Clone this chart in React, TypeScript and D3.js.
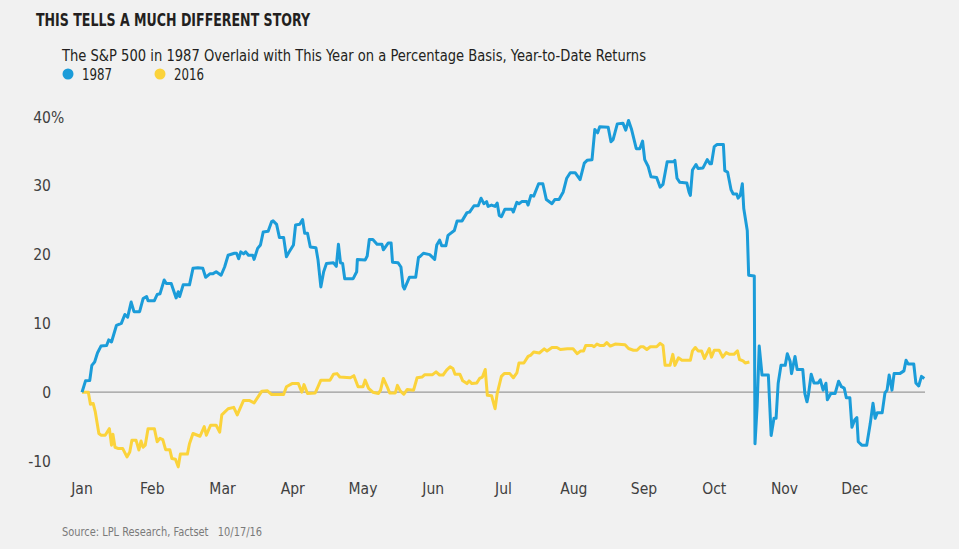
import React from "react";
import * as d3 from "d3";

const title = "THIS TELLS A MUCH DIFFERENT STORY";
const subtitle = "The S&P 500 in 1987 Overlaid with This Year on a Percentage Basis, Year-to-Date Returns";
const source = "Source: LPL Research, Factset   10/17/16";
const monthLabels = ["Jan", "Feb", "Mar", "Apr", "May", "Jun", "Jul", "Aug", "Sep", "Oct", "Nov", "Dec"];
const yTicks = [-10, 0, 10, 20, 30, 40];
const seriesNames = ["1987", "2016"];

// [month position, % year-to-date]
const series1987: [number, number][] = [
  [0, 0], [0.05, 1.65], [0.11, 1.7], [0.14, 3.9], [0.18, 4.4], [0.22, 5.7], [0.27, 6.7], [0.35, 6.8],
  [0.38, 7.6], [0.42, 7.3], [0.49, 9.7], [0.56, 10.0], [0.61, 11.3], [0.65, 10.9], [0.7, 13.1], [0.74, 11.7],
  [0.82, 11.7], [0.87, 13.6], [0.92, 13.9], [0.94, 13.3], [1.03, 13.3], [1.07, 14.2], [1.11, 14.3], [1.17, 16.3],
  [1.2, 15.8], [1.27, 15.8], [1.34, 13.7], [1.37, 14.6], [1.39, 13.9], [1.44, 15.6], [1.53, 15.6], [1.58, 18.0],
  [1.65, 18.1], [1.72, 18.0], [1.76, 16.7], [1.82, 17.2], [1.86, 17.2], [1.91, 17.5], [1.98, 17.0], [2.03, 18.2],
  [2.08, 19.9], [2.17, 20.2], [2.2, 20.2], [2.23, 19.4], [2.26, 20.4], [2.3, 20.1], [2.33, 20.4], [2.37, 19.9],
  [2.43, 19.9], [2.45, 19.3], [2.5, 20.9], [2.54, 21.4], [2.58, 23.3], [2.65, 23.4], [2.7, 24.8], [2.72, 24.9],
  [2.77, 24.4], [2.81, 22.5], [2.87, 22.5], [2.91, 19.7], [2.95, 20.4], [3.01, 21.4], [3.04, 24.3], [3.1, 24.4],
  [3.14, 25.1], [3.17, 23.1], [3.21, 23.1], [3.25, 21.1], [3.33, 21.0], [3.36, 19.2], [3.4, 15.3], [3.44, 17.5],
  [3.48, 18.7], [3.58, 18.8], [3.62, 18.3], [3.65, 21.5], [3.68, 18.8], [3.71, 18.7], [3.74, 16.5], [3.86, 16.5],
  [3.91, 17.5], [3.92, 19.3], [4.03, 19.2], [4.06, 19.8], [4.09, 22.2], [4.14, 22.2], [4.2, 21.5], [4.27, 21.5],
  [4.29, 20.7], [4.36, 21.7], [4.4, 21.7], [4.42, 18.9], [4.5, 18.8], [4.54, 18.2], [4.57, 15.4], [4.59, 15.0],
  [4.66, 16.7], [4.75, 16.7], [4.79, 19.6], [4.81, 19.7], [4.86, 20.2], [4.95, 20.0], [5.02, 19.3], [5.05, 21.4],
  [5.09, 22.1], [5.12, 21.3], [5.18, 21.3], [5.21, 22.8], [5.3, 23.5], [5.34, 24.9], [5.41, 24.9], [5.48, 26.1],
  [5.52, 26.2], [5.58, 27.1], [5.64, 27.1], [5.68, 28.2], [5.72, 27.4], [5.76, 27.7], [5.78, 27.0], [5.83, 27.2],
  [5.88, 27.0], [5.91, 27.5], [5.94, 25.7], [5.97, 25.5], [6.02, 26.6], [6.12, 26.6], [6.14, 26.2], [6.19, 27.6],
  [6.22, 27.4], [6.26, 27.7], [6.33, 27.7], [6.35, 27.2], [6.39, 28.6], [6.43, 28.5], [6.5, 30.3], [6.56, 30.3],
  [6.61, 28.0], [6.69, 27.4], [6.73, 28.0], [6.79, 28.0], [6.85, 29.1], [6.9, 31.1], [6.95, 31.9], [7.02, 31.9],
  [7.09, 30.9], [7.15, 33.3], [7.19, 33.7], [7.26, 33.8], [7.3, 38.2], [7.34, 37.7], [7.37, 38.6], [7.49, 38.5],
  [7.53, 36.4], [7.56, 36.7], [7.62, 39.0], [7.7, 39.1], [7.74, 38.1], [7.78, 39.5], [7.82, 38.3], [7.89, 35.4],
  [7.94, 35.4], [7.98, 36.5], [8.01, 33.8], [8.06, 32.8], [8.1, 31.3], [8.18, 31.2], [8.23, 29.8], [8.27, 30.2],
  [8.33, 33.5], [8.42, 33.5], [8.44, 33.7], [8.47, 31.1], [8.51, 30.5], [8.61, 30.4], [8.64, 29.1], [8.66, 28.6],
  [8.69, 32.3], [8.74, 33.1], [8.77, 32.5], [8.84, 32.6], [8.9, 33.8], [8.94, 33.2], [8.96, 33.2], [9.0, 35.7],
  [9.04, 36.0], [9.13, 36.0], [9.15, 32.2], [9.19, 32.0], [9.24, 29.4], [9.27, 28.8], [9.32, 28.8], [9.34, 28.2],
  [9.37, 28.6], [9.4, 30.3], [9.42, 26.7], [9.47, 23.5], [9.49, 17.0], [9.57, 16.9], [9.58, -7.5], [9.61, -2.1],
  [9.64, 6.7], [9.68, 2.5], [9.77, 2.5], [9.81, -6.3], [9.85, -3.8], [9.88, -3.8], [9.91, 1.3], [9.95, 3.9],
  [10.01, 3.9], [10.04, 5.6], [10.08, 4.5], [10.1, 2.7], [10.15, 5.2], [10.18, 3.3], [10.26, 3.3], [10.29, -0.2],
  [10.32, -1.4], [10.34, -0.4], [10.38, 2.6], [10.42, 1.35], [10.48, 1.35], [10.51, 1.8], [10.55, 0.3], [10.59, 1.3],
  [10.61, -1.1], [10.66, -0.2], [10.72, -0.2], [10.77, 1.6], [10.81, 0.8], [10.85, 0.6], [10.88, -0.8], [10.93, -0.8],
  [10.96, -5.1], [11.0, -4.0], [11.03, -3.7], [11.05, -7.2], [11.1, -7.7], [11.17, -7.7], [11.22, -4.6], [11.26, -1.6],
  [11.29, -3.8], [11.32, -3.0], [11.39, -3.0], [11.43, -0.1], [11.46, 0.3], [11.49, 2.5], [11.53, 0.3], [11.56, 2.7],
  [11.64, 2.7], [11.7, 3.1], [11.73, 4.65], [11.76, 4.1], [11.84, 4.1], [11.87, 1.35], [11.91, 0.9], [11.95, 2.3],
  [11.99, 2.0],
];

const series2016: [number, number][] = [
  [0, 0], [0.09, 0], [0.12, -1.75], [0.16, -1.65], [0.19, -2.9], [0.24, -6.0], [0.27, -6.25], [0.33, -6.25],
  [0.39, -5.3], [0.42, -7.7], [0.44, -6.1], [0.47, -8.0], [0.52, -8.2], [0.58, -8.2], [0.64, -9.4], [0.68, -8.7],
  [0.71, -7.0], [0.77, -7.0], [0.81, -8.4], [0.84, -7.1], [0.87, -8.0], [0.9, -7.7], [0.94, -5.3], [1.03, -5.3],
  [1.07, -7.2], [1.11, -6.7], [1.15, -6.9], [1.19, -8.35], [1.25, -8.35], [1.28, -9.65], [1.33, -9.75], [1.37, -10.85],
  [1.4, -9.0], [1.5, -9.0], [1.53, -7.5], [1.58, -6.0], [1.68, -6.4], [1.74, -5.0], [1.77, -6.25], [1.83, -4.8],
  [1.91, -4.8], [1.96, -5.8], [1.99, -3.3], [2.08, -2.4], [2.16, -2.2], [2.21, -3.3], [2.3, -1.2], [2.38, -1.2],
  [2.45, -1.55], [2.56, 0.15], [2.64, 0.2], [2.7, -0.35], [2.87, -0.35], [2.91, 0.8], [2.99, 1.25], [3.08, 1.25],
  [3.13, 0], [3.16, 1.1], [3.21, -0.2], [3.32, -0.1], [3.36, 0.8], [3.4, 1.75], [3.53, 1.75], [3.58, 2.6],
  [3.63, 2.7], [3.67, 2.2], [3.82, 2.1], [3.87, 2.4], [3.93, 0.8], [4.0, 0.8], [4.03, 1.75], [4.08, 0.55],
  [4.14, 0], [4.22, -0.2], [4.25, 0.3], [4.29, 2.0], [4.34, 0.9], [4.38, -0.1], [4.46, -0.1], [4.49, 1.0],
  [4.53, 0.2], [4.58, -0.3], [4.63, 0.4], [4.72, 0.3], [4.77, 2.1], [4.84, 2.2], [4.88, 2.55], [4.99, 2.55],
  [5.04, 2.95], [5.09, 2.5], [5.14, 2.5], [5.19, 3.2], [5.24, 3.7], [5.28, 3.45], [5.31, 2.6], [5.38, 2.6],
  [5.42, 1.65], [5.48, 1.25], [5.51, 1.65], [5.55, 1.25], [5.62, 1.35], [5.66, 2.0], [5.7, 2.2], [5.74, 3.3],
  [5.77, -0.45], [5.83, -0.5], [5.88, -2.4], [5.91, -0.2], [5.97, 2.3], [6.01, 2.7], [6.09, 2.7], [6.14, 2.1],
  [6.19, 2.8], [6.22, 4.25], [6.29, 4.25], [6.35, 5.2], [6.39, 5.4], [6.43, 5.85], [6.51, 5.7], [6.58, 6.3],
  [6.62, 6.0], [6.69, 6.5], [6.76, 6.5], [6.81, 6.2], [6.91, 6.3], [6.99, 6.3], [7.05, 5.6], [7.1, 6.0],
  [7.14, 6.0], [7.17, 6.8], [7.26, 6.8], [7.29, 6.6], [7.33, 7.0], [7.37, 6.8], [7.43, 6.8], [7.47, 7.2],
  [7.52, 6.7], [7.59, 7.0], [7.73, 6.9], [7.78, 6.35], [7.85, 6.1], [7.9, 6.1], [7.95, 6.6], [7.99, 6.6],
  [8.04, 6.2], [8.09, 6.6], [8.18, 6.6], [8.23, 7.1], [8.27, 6.8], [8.3, 3.9], [8.37, 3.9], [8.41, 5.5],
  [8.44, 3.9], [8.49, 5.0], [8.54, 4.65], [8.66, 4.65], [8.69, 6.0], [8.73, 6.5], [8.77, 6.0], [8.82, 6.0],
  [8.86, 4.9], [8.93, 6.35], [8.96, 5.1], [9.0, 6.1], [9.07, 6.1], [9.12, 5.1], [9.17, 5.75], [9.22, 5.5],
  [9.28, 5.5], [9.33, 6.0], [9.36, 4.75], [9.41, 4.55], [9.44, 4.25], [9.5, 4.4],
];

const colors = ["#1b9cd9", "#fbd33b"];
const FONT = "'Liberation Sans Narrow', 'DejaVu Sans Condensed', 'Roboto Condensed', Roboto, sans-serif";

export default function App() {
  const W = 959, H = 549;
  const x = d3.scaleLinear().domain([0, 12]).range([82, 925]);
  const y = d3.scaleLinear().domain([-10, 40]).range([461, 117]);
  const line = d3.line<[number, number]>().x((d) => x(d[0])).y((d) => y(d[1])).curve(d3.curveLinear);

  return (
    <svg width={W} height={H} style={{ position: "absolute", left: 0, top: 0, fontFamily: FONT, fontStretch: "condensed" }}>
      <rect width={W} height={H} fill="#f1f1f1" />
      <text x={36} y={26} fontSize={18} fontWeight="bold" fill="#231f20" textLength={274} lengthAdjust="spacingAndGlyphs">{title}</text>
      <text x={62} y={61} fontSize={16.5} fill="#231f20" textLength={584} lengthAdjust="spacingAndGlyphs">{subtitle}</text>
      {seriesNames.map((n, i) => (
        <g key={n} transform={`translate(${68 + i * 92},74)`}>
          <circle r={5.5} fill={colors[i]} />
          <text x={14} y={6} fontSize={16.5} fill="#231f20" textLength={30} lengthAdjust="spacingAndGlyphs">{n}</text>
        </g>
      ))}
      {yTicks.map((t) => (
        <g key={t}>
          <text x={51} y={y(t) + 5.5} fontSize={15.5} fill="#404040" textAnchor="end">{t}</text>
          {t === 40 && <text x={51} y={y(t) + 5.5} fontSize={15.5} fill="#404040">%</text>}
        </g>
      ))}
      {monthLabels.map((m, i) => (
        <text key={m} x={x(i)} y={494} fontSize={15.5} fill="#404040" textAnchor="middle">{m}</text>
      ))}
      <line x1={x(0)} x2={x(12)} y1={y(0)} y2={y(0)} stroke="#9a9a9a" strokeWidth={1.2} />
      <path d={line(series2016) || ""} fill="none" stroke={colors[1]} strokeWidth={3} strokeLinejoin="round" />
      <path d={line(series1987) || ""} fill="none" stroke={colors[0]} strokeWidth={3} strokeLinejoin="round" />
      <text x={62} y={536} fontSize={12.5} fill="#7a7a7a" xmlSpace="preserve" textLength={200} lengthAdjust="spacingAndGlyphs">{source}</text>
    </svg>
  );
}
